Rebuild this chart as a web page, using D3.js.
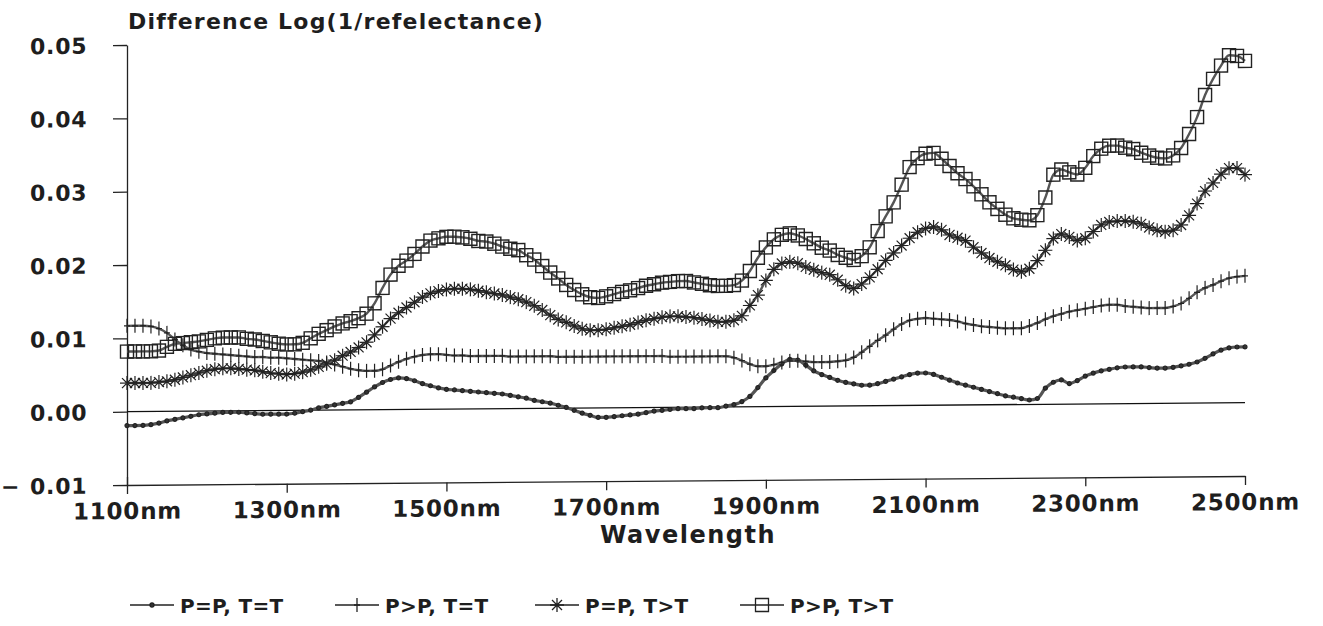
<!DOCTYPE html>
<html>
<head>
<meta charset="utf-8">
<script src="https://cdn.jsdelivr.net/npm/d3@7/dist/d3.min.js"></script>
<style>
  html, body { margin: 0; padding: 0; background: #fff; }
  svg { display: block; }
  text { font-family: "DejaVu Sans", Arial, sans-serif; font-weight: bold; fill: #1e1e1e; }
</style>
</head>
<body>
<svg id="chart" width="1323" height="626"></svg>
<script>
// ---------------- data ----------------
const startNm = 1100, stepNm = 10;
const xTickValues = [1100, 1300, 1500, 1700, 1900, 2100, 2300, 2500];
const yTickValues = [-0.01, 0.00, 0.01, 0.02, 0.03, 0.04, 0.05];
const seriesNames = ["P=P, T=T", "P>P, T=T", "P=P, T>T", "P>P, T>T"];

// P=P, T=T (dot marker)
const ppTT = [
 -0.0019,-0.0019,-0.0019,-0.0018,-0.0016,-0.0013,-0.0011,-0.0009,-0.0007,-0.0005,
 -0.0004,-0.0003,-0.0002,-0.0002,-0.0002,-0.0003,-0.0004,-0.0005,-0.0005,-0.0005,
 -0.0005,-0.0004,-0.0002,0.0000,0.0003,0.0005,0.0007,0.0009,0.0011,0.0017,
 0.0024,0.0031,0.0037,0.0041,0.0043,0.0042,0.0039,0.0035,0.0032,0.0029,
 0.0027,0.0026,0.0025,0.0024,0.0023,0.0022,0.0021,0.0020,0.0018,0.0016,
 0.0014,0.0011,0.0009,0.0007,0.0004,0.0001,-0.0003,-0.0007,-0.0010,-0.0013,
 -0.0013,-0.0012,-0.0011,-0.0010,-0.0009,-0.0007,-0.0005,-0.0004,-0.0003,-0.0002,
 -0.0002,-0.0002,-0.0001,-0.0001,-0.0001,0.0001,0.0003,0.0007,0.0014,0.0026,
 0.0039,0.0049,0.0058,0.0064,0.0063,0.0056,0.0048,0.0043,0.0039,0.0035,
 0.0032,0.0030,0.0028,0.0028,0.0030,0.0033,0.0036,0.0039,0.0042,0.0044,
 0.0044,0.0042,0.0038,0.0034,0.0030,0.0027,0.0024,0.0021,0.0018,0.0015,
 0.0012,0.0010,0.0008,0.0006,0.0008,0.0022,0.0030,0.0033,0.0028,0.0032,
 0.0038,0.0042,0.0045,0.0047,0.0049,0.0050,0.0050,0.0050,0.0049,0.0048,
 0.0048,0.0049,0.0051,0.0053,0.0056,0.0061,0.0067,0.0072,0.0075,0.0076,
 0.0076
];
// P>P, T=T (plus marker)
const pgTT = [
 0.0117,0.0117,0.0117,0.0116,0.0113,0.0107,0.0098,0.0090,0.0084,0.0081,
 0.0079,0.0078,0.0077,0.0076,0.0075,0.0074,0.0073,0.0073,0.0072,0.0072,
 0.0071,0.0070,0.0069,0.0068,0.0067,0.0065,0.0062,0.0059,0.0056,0.0054,
 0.0053,0.0053,0.0055,0.0060,0.0065,0.0069,0.0072,0.0074,0.0075,0.0075,
 0.0074,0.0073,0.0073,0.0072,0.0072,0.0072,0.0072,0.0072,0.0071,0.0071,
 0.0071,0.0071,0.0071,0.0071,0.0070,0.0070,0.0070,0.0070,0.0070,0.0070,
 0.0070,0.0070,0.0070,0.0070,0.0070,0.0070,0.0070,0.0070,0.0069,0.0069,
 0.0069,0.0069,0.0069,0.0069,0.0069,0.0069,0.0067,0.0063,0.0058,0.0055,
 0.0055,0.0057,0.0060,0.0062,0.0062,0.0061,0.0060,0.0060,0.0060,0.0061,
 0.0062,0.0066,0.0073,0.0081,0.0089,0.0096,0.0104,0.0111,0.0116,0.0118,
 0.0119,0.0118,0.0117,0.0116,0.0114,0.0111,0.0109,0.0107,0.0106,0.0105,
 0.0104,0.0104,0.0104,0.0107,0.0111,0.0116,0.0120,0.0123,0.0126,0.0128,
 0.0130,0.0132,0.0134,0.0135,0.0135,0.0133,0.0132,0.0131,0.0130,0.0130,
 0.0130,0.0132,0.0136,0.0143,0.0151,0.0157,0.0161,0.0166,0.0170,0.0172,
 0.0173
];
// P=P, T>T (asterisk marker)
const ppTg = [
 0.0039,0.0039,0.0039,0.0039,0.0040,0.0041,0.0043,0.0046,0.0049,0.0052,
 0.0055,0.0057,0.0058,0.0058,0.0057,0.0056,0.0055,0.0053,0.0051,0.0050,
 0.0049,0.0050,0.0052,0.0055,0.0059,0.0063,0.0068,0.0074,0.0079,0.0085,
 0.0092,0.0102,0.0113,0.0124,0.0132,0.0139,0.0146,0.0153,0.0158,0.0161,
 0.0163,0.0164,0.0164,0.0163,0.0161,0.0159,0.0157,0.0155,0.0152,0.0149,
 0.0145,0.0140,0.0134,0.0127,0.0121,0.0117,0.0112,0.0108,0.0106,0.0106,
 0.0107,0.0109,0.0111,0.0113,0.0116,0.0119,0.0121,0.0123,0.0124,0.0124,
 0.0123,0.0122,0.0120,0.0118,0.0116,0.0116,0.0118,0.0124,0.0138,0.0152,
 0.0172,0.0187,0.0195,0.0197,0.0195,0.0190,0.0186,0.0182,0.0179,0.0172,
 0.0164,0.0160,0.0166,0.0175,0.0186,0.0198,0.0208,0.0218,0.0228,0.0236,
 0.0241,0.0243,0.0239,0.0232,0.0228,0.0224,0.0215,0.0207,0.0200,0.0195,
 0.0190,0.0184,0.0181,0.0185,0.0196,0.0210,0.0226,0.0232,0.0228,0.0223,
 0.0226,0.0235,0.0244,0.0248,0.0249,0.0249,0.0248,0.0245,0.0240,0.0236,
 0.0234,0.0236,0.0243,0.0256,0.0272,0.0289,0.0300,0.0312,0.0320,0.0320,
 0.0311
];
// P>P, T>T (square marker)
const pgTg = [
 0.0082,0.0082,0.0082,0.0082,0.0083,0.0088,0.0092,0.0093,0.0094,0.0095,
 0.0097,0.0099,0.0100,0.0100,0.0100,0.0098,0.0097,0.0095,0.0093,0.0091,
 0.0090,0.0090,0.0092,0.0098,0.0104,0.0109,0.0114,0.0118,0.0121,0.0125,
 0.0131,0.0145,0.0166,0.0184,0.0196,0.0203,0.0212,0.0222,0.0230,0.0233,
 0.0235,0.0235,0.0234,0.0232,0.0229,0.0228,0.0225,0.0221,0.0218,0.0216,
 0.0209,0.0203,0.0194,0.0185,0.0177,0.0168,0.0161,0.0155,0.0151,0.0150,
 0.0152,0.0155,0.0158,0.0160,0.0163,0.0166,0.0168,0.0170,0.0171,0.0172,
 0.0172,0.0170,0.0168,0.0166,0.0165,0.0165,0.0166,0.0172,0.0185,0.0203,
 0.0217,0.0228,0.0234,0.0236,0.0233,0.0228,0.0222,0.0216,0.0212,0.0206,
 0.0202,0.0199,0.0204,0.0216,0.0238,0.0258,0.0277,0.0301,0.0325,0.0337,
 0.0343,0.0344,0.0336,0.0326,0.0316,0.0308,0.0298,0.0287,0.0276,0.0267,
 0.0259,0.0254,0.0252,0.0251,0.0258,0.0282,0.0313,0.0320,0.0316,0.0313,
 0.0322,0.0338,0.0348,0.0352,0.0352,0.0349,0.0347,0.0342,0.0338,0.0335,
 0.0334,0.0338,0.0348,0.0367,0.0390,0.0420,0.0442,0.0460,0.0474,0.0473,
 0.0466
];

// ---------------- drawing ----------------
const svg = d3.select("#chart");
const X0 = 127, X1 = 1245, Y0 = 485, Y1 = 45;
const x = d3.scaleLinear().domain([1100, 2500]).range([X0, X1]);
const y = d3.scaleLinear().domain([-0.01, 0.05]).range([Y0, Y1]);

// scanned original is slightly skewed: emulate with a small skewY around the y-axis
const root = svg.append("g")
  .attr("transform", `translate(${X0},0) skewY(-0.46) translate(${-X0},0)`);

const wavelengths = ppTT.map((_, i) => startNm + i * stepNm);

// y axis
const yAxis = d3.axisLeft(y).tickValues(yTickValues).tickSize(14).tickSizeOuter(0)
  .tickFormat(d => d3.format(".2f")(Math.abs(d)));
const gy = root.append("g").attr("transform", `translate(${X0},0)`).call(yAxis);
gy.select(".domain").attr("stroke", "#222").attr("stroke-width", 1.3);
gy.selectAll(".tick line").attr("stroke", "#222").attr("stroke-width", 1.3);
gy.selectAll(".tick text")
  .attr("x", -97).attr("text-anchor", "start").attr("dy", "0.36em")
  .style("font-size", "22px").style("letter-spacing", "0.8px");
gy.selectAll(".tick").filter(d => d < 0).append("text")
  .attr("x", -126).attr("dy", "0.36em").attr("text-anchor", "start")
  .style("font-size", "22px").text("\u2212");

// x axis
const xAxis = d3.axisBottom(x).tickValues(xTickValues).tickSize(9).tickSizeOuter(0)
  .tickFormat(d => d + "nm");
const gx = root.append("g").attr("transform", `translate(0,${Y0})`).call(xAxis);
gx.select(".domain").attr("stroke", "#222").attr("stroke-width", 1.3);
gx.selectAll(".tick line").attr("stroke", "#222").attr("stroke-width", 1.3);
gx.selectAll(".tick").filter(d => d === 1100).select("line").attr("y1", -8);
gx.selectAll(".tick text").attr("y", 34).attr("dy", 0)
  .style("font-size", "23px").style("letter-spacing", "0.8px");

// zero line
root.append("line")
  .attr("x1", x(1100)).attr("x2", x(2500)).attr("y1", y(0)).attr("y2", y(0))
  .attr("stroke", "#111").attr("stroke-width", 1.3);

// marker shapes (relative paths)
const markerPaths = [
  "M-2,0a2,2 0 1,0 4,0a2,2 0 1,0 -4,0",
  "M0,-7V7M-3,0H3",
  "M0,-7V7M-7,0H7M-5,-5L5,5M-5,5L5,-5",
  "M-6.5,-6.5h13v13h-13z"
];
const allSeries = [ppTT, pgTT, ppTg, pgTg];
const line = d3.line().x((d, i) => x(wavelengths[i])).y(d => y(d)).curve(d3.curveMonotoneX);

allSeries.forEach((vals, k) => {
  const g = root.append("g").attr("class", "series s" + k);
  g.append("path").datum(vals).attr("d", line)
    .attr("fill", "none").attr("stroke", "#555").attr("stroke-width", k === 0 ? 3.2 : 2.4);
  g.selectAll("path.m").data(vals).join("path").attr("class", "m")
    .attr("transform", (d, i) => `translate(${x(wavelengths[i])},${y(d)})`)
    .attr("d", markerPaths[k])
    .attr("fill", k === 0 ? "#333" : "none")
    .attr("stroke", "#222").attr("stroke-width", k === 3 ? 1.4 : 1.2);
});

// titles
svg.append("text").attr("x", 128).attr("y", 29)
  .style("font-size", "22px").style("letter-spacing", "1.2px")
  .text("Difference Log(1/refelectance)");
svg.append("text").attr("x", 688).attr("y", 543).attr("text-anchor", "middle")
  .style("font-size", "24px").style("letter-spacing", "1.5px")
  .text("Wavelength");

// legend
const legendX = [130, 335, 535, 740];
const leg = svg.append("g").attr("class", "legend");
seriesNames.forEach((name, k) => {
  const g = leg.append("g").attr("transform", `translate(${legendX[k]},605)`);
  g.append("line").attr("x1", 0).attr("x2", 44).attr("y1", 0).attr("y2", 0)
    .attr("stroke", "#222").attr("stroke-width", 1.6);
  g.append("path").attr("transform", "translate(22,0)").attr("d", markerPaths[k])
    .attr("fill", k === 0 ? "#333" : "none").attr("stroke", "#222").attr("stroke-width", 1.3);
  g.append("text").attr("x", 50).attr("y", 8)
    .style("font-size", "20px").style("letter-spacing", "0.3px").text(name);
});
</script>
</body>
</html>
